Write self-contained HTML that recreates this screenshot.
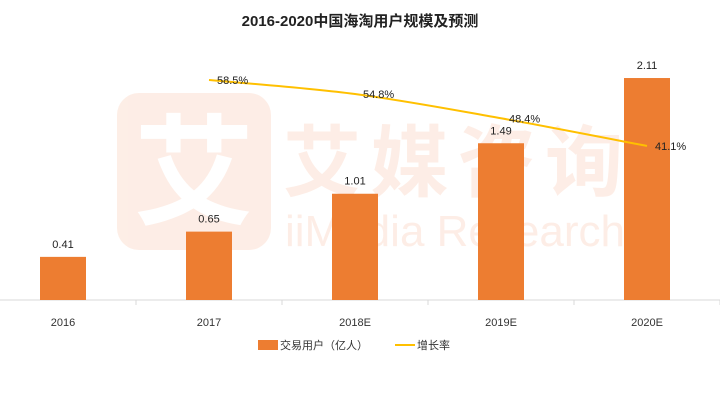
<!DOCTYPE html>
<html><head><meta charset="utf-8"><style>
body{margin:0;background:#fff;}
svg{display:block;font-family:"Liberation Sans","Noto Sans CJK SC",sans-serif;}
</style></head><body>
<svg id="c" width="720" height="405" viewBox="0 0 720 405">
<text x="360" y="26" text-anchor="middle" font-size="15" font-weight="bold" fill="#222">2016-2020中国海淘用户规模及预测</text>
<g opacity="0.45">
<rect x="117" y="93" width="154" height="157" rx="22" fill="#fbd9c8"/>
<text x="194" y="215" text-anchor="middle" font-size="120" fill="#fff" font-weight="bold">艾</text>
<text x="283" y="190" font-size="78" fill="#fbd9c8" font-weight="bold" textLength="340">艾媒咨询</text>
<text x="285" y="246" font-size="44" fill="#fbd9c8" textLength="340">iiMedia Research</text>
</g>
<g id="plot"></g>
<g>
<rect x="258" y="340" width="20" height="10" fill="#ed7d31"/>
<text x="280" y="349" font-size="11" fill="#333">交易用户（亿人）</text>
<line x1="395" y1="345" x2="415" y2="345" stroke="#ffc000" stroke-width="2"/>
<text x="417" y="349" font-size="11" fill="#333">增长率</text>
</g>
</svg>
<script>
const categories=["2016","2017","2018E","2019E","2020E"];
const users=[0.41,0.65,1.01,1.49,2.11];
const userLabels=["0.41","0.65","1.01","1.49","2.11"];
const growth=[null,58.5,54.8,48.4,41.1];
const growthLabels=["","58.5%","54.8%","48.4%","41.1%"];
const NS="http://www.w3.org/2000/svg";
const g=document.getElementById('plot');
const base=300, step=146, x0=63;
const xPos=i=>x0+i*step;
const yBar=v=>base-v*105.2;
const yLine=v=>80+(58.5-v)*3.79;
function mk(t,a){const e=document.createElementNS(NS,t);for(const k in a)e.setAttribute(k,a[k]);g.appendChild(e);return e;}
const ax=mk('line',{x1:0,y1:base,x2:720,y2:base,stroke:'#d9d9d9','stroke-width':1});


for(let i=0;i<=categories.length;i++){const t=mk('line',{x1:x0-73+i*step,y1:base,x2:x0-73+i*step,y2:base+5,stroke:'#d9d9d9'});

}
categories.forEach((c,i)=>{
const y=yBar(users[i]);
const r=mk('rect',{x:xPos(i)-23,y:y,width:46,height:base-y,fill:'#ed7d31'});


const l=mk('text',{x:xPos(i),y:y-9,'text-anchor':'middle','font-size':11,fill:'#222'});l.textContent=userLabels[i];


const xl=mk('text',{x:xPos(i),y:326,'text-anchor':'middle','font-size':11,fill:'#333'});xl.textContent=c;


});
const pts=[];growth.forEach((v,i)=>{if(v!==null)pts.push([xPos(i),yLine(v)]);});
let d='M'+pts[0][0]+','+pts[0][1];
const T=0.17;
for(let i=0;i<pts.length-1;i++){
const p0=pts[Math.max(i-1,0)],p1=pts[i],p2=pts[i+1],p3=pts[Math.min(i+2,pts.length-1)];
const c1=[p1[0]+(p2[0]-p0[0])*T,p1[1]+(p2[1]-p0[1])*T];
const c2=[p2[0]-(p3[0]-p1[0])*T,p2[1]-(p3[1]-p1[1])*T];
d+=` C${c1[0]},${c1[1]} ${c2[0]},${c2[1]} ${p2[0]},${p2[1]}`;}
const pl=mk('path',{d:d,fill:'none',stroke:'#ffc000','stroke-width':2});


growth.forEach((v,i)=>{if(v===null)return;
const t=mk('text',{x:xPos(i)+8,y:yLine(v)+4,'font-size':11,fill:'#222'});t.textContent=growthLabels[i];

});
</script>
</body></html>
